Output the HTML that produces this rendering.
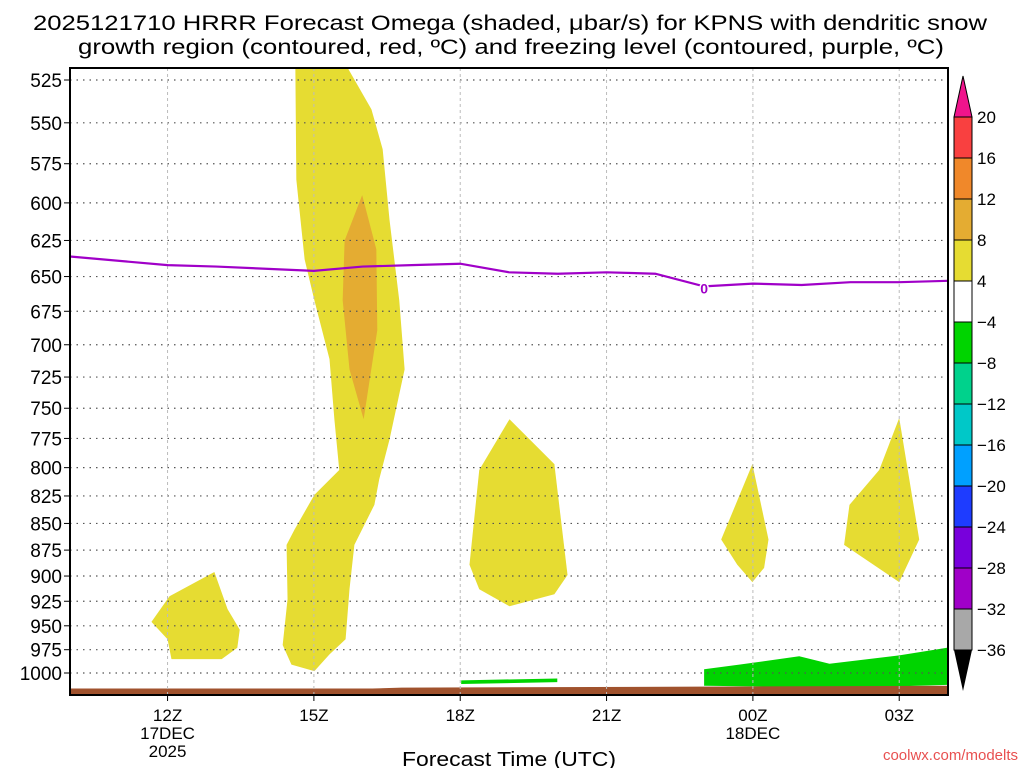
<!DOCTYPE html>
<html><head><meta charset="utf-8"><style>
body{margin:0;background:#fff;}
svg text{font-family:"Liberation Sans",sans-serif;}
</style></head><body>
<svg id="chart" width="1024" height="768" xmlns="http://www.w3.org/2000/svg">
<text x="33" y="30" font-size="21" textLength="954" lengthAdjust="spacingAndGlyphs">2025121710 HRRR Forecast Omega (shaded, μbar/s) for KPNS with dendritic snow</text>
<text x="78" y="54" font-size="21" textLength="866" lengthAdjust="spacingAndGlyphs">growth region (contoured, red, ºC) and freezing level (contoured, purple, ºC)</text>
<g id="shapes"></g><g id="grid"></g><g id="lines"></g><g id="axes"></g><g id="cbar"></g>
<text x="402" y="766" font-size="20" textLength="214" lengthAdjust="spacingAndGlyphs">Forecast Time (UTC)</text>
<text x="1018" y="760" font-size="15" fill="#e85050" text-anchor="end">coolwx.com/modelts</text>
</svg>
<script>
const NS="http://www.w3.org/2000/svg";
const pLevels=[525,550,575,600,625,650,675,700,725,750,775,800,825,850,875,900,925,950,975,1000];
const hourTicks=[12,15,18,21,24,27];
const hourLabels=["12Z","15Z","18Z","21Z","00Z","03Z"];
const freezeHours=[10,12,13,15,16,17,18,19,20,21,22,23,24,25,26,27,28];
const freezeP=[636,642,643,646,643,642,641,647,648,647,648,657,655,656,654,654,653];
const plume=[[14.62,518],[14.64,585],[14.81,638],[15.01,667],[15.32,711],[15.42,759],[15.52,802],[15.01,824],[14.6,856],[14.44,870],[14.46,923],[14.36,970],[14.54,991],[15.01,998],[15.32,980],[15.65,964],[15.73,913],[15.83,870],[16.24,833],[16.34,810],[16.55,776],[16.86,719],[16.75,667],[16.55,611],[16.41,566],[16.18,542],[15.69,518]];
const plumeCore=[[15.99,595],[15.63,625],[15.59,667],[15.73,719],[16.02,759],[16.3,689],[16.28,631]];
const blob12=[[11.67,946],[12.04,920],[12.96,896],[13.23,933],[13.48,954],[13.43,973],[13.11,985],[12.08,985],[12.0,964]];
const blob18=[[18.39,802],[19.01,759],[19.93,797],[20.2,899],[19.93,918],[19.01,930],[18.39,913],[18.19,889]];
const blob00=[[23.99,797],[24.32,865],[24.23,892],[23.99,906],[23.68,889],[23.35,865]];
const blob03=[[27.0,758],[27.41,865],[27.0,906],[25.87,870],[25.98,833],[26.59,802]];
const green1=[[23.0,996],[23.72,991],[24.95,982],[25.57,990],[27.0,981],[27.98,973],[27.98,1013],[26.18,1016],[23.0,1014]];
const green2=[[18.02,1008],[19.99,1006],[19.99,1010],[18.02,1012]];
const groundHours=[10,16.2,16.8,28];
const groundP=[1017,1017,1016,1014];
const cbLabels=["20","16","12","8","4","-4","-8","-12","-16","-20","-24","-28","-32","-36"];
const cbColors=["#f94040","#f0882a","#e4ac32","#e6dc32","#ffffff","#00d400","#00d28c","#00c8c8","#00a0ff","#1e3cff","#7800dc","#a000c8","#a8a8a8"];

const X0=70,X1=948,Y0=68,Y1=695,H0=10,H1=28,P0=525,YP0=80,YP1=673;
const x=h=>X0+(h-H0)/(H1-H0)*(X1-X0);
const y=p=>YP0+Math.log(p/P0)/Math.log(1000/P0)*(YP1-YP0);
function mk(tag,attrs,parent){const e=document.createElementNS(NS,tag);for(const k in attrs)e.setAttribute(k,attrs[k]);parent.appendChild(e);return e;}
const shapes=document.getElementById('shapes'),grid=document.getElementById('grid'),lines=document.getElementById('lines'),axes=document.getElementById('axes'),cbar=document.getElementById('cbar');
function poly(pts,fill,name){const e=mk('polygon',{points:pts.map(q=>x(q[0])+','+y(q[1])).join(' '),fill:fill},shapes);

}
const clip=mk('clipPath',{id:'pc'},shapes);mk('rect',{x:X0,y:Y0,width:X1-X0,height:Y1-Y0},clip);
shapes.setAttribute('clip-path','url(#pc)');
poly(plume,'#e6dc32','omega-plume-15z');
poly(plumeCore,'#e4ac32','omega-core-16z');
poly(blob12,'#e6dc32','omega-area-12z');
poly(blob18,'#e6dc32','omega-area-19z');
poly(blob00,'#e6dc32','omega-area-00z');
poly(blob03,'#e6dc32','omega-area-03z');
poly(green1,'#00d400','negative-omega-area-00z');
poly(green2,'#00d400','negative-omega-strip-18z');
let gp=[];for(let i=0;i<groundHours.length;i++){gp.push(x(groundHours[i])+','+y(groundP[i]));}
gp.push(X1+','+Y1);gp.push(X0+','+Y1);
const g=mk('polygon',{points:gp.join(' '),fill:'#a0522d'},shapes);


pLevels.forEach(p=>{const l=mk('line',{x1:X0,x2:X1,y1:y(p),y2:y(p),stroke:'#555','stroke-width':1.2,'stroke-dasharray':'1.5,5'},grid);


const t=mk('text',{x:X0-8,y:y(p)+7,'font-size':19,'text-anchor':'end'},axes);t.textContent=p;


mk('line',{x1:X0-6,x2:X0,y1:y(p),y2:y(p),stroke:'#000'},axes);});
hourTicks.forEach((h,i)=>{const l=mk('line',{x1:x(h),x2:x(h),y1:Y0,y2:Y1,stroke:'#bbb','stroke-dasharray':'3,3'},grid);


mk('line',{x1:x(h),x2:x(h),y1:Y1,y2:Y1+6,stroke:'#000'},axes);
const t=mk('text',{x:x(h),y:721,'font-size':17,'text-anchor':'middle'},axes);t.textContent=hourLabels[i];

});
[[12,"17DEC",739],[12,"2025",757],[24,"18DEC",739]].forEach(a=>{const t=mk('text',{x:x(a[0]),y:a[2],'font-size':17,'text-anchor':'middle'},axes);t.textContent=a[1];

});
const fl=mk('polyline',{points:freezeHours.map((h,i)=>x(h)+','+y(freezeP[i])).join(' '),fill:'none',stroke:'#a000c8','stroke-width':2.2},lines);


const fz=mk('text',{x:x(23),y:y(657)+7,'font-size':14,'font-weight':'bold',fill:'#a000c8','text-anchor':'middle',stroke:'#fff','stroke-width':3,'paint-order':'stroke'},lines);fz.textContent='0';


const fr=mk('rect',{x:X0,y:Y0,width:X1-X0,height:Y1-Y0,fill:'none',stroke:'#000','stroke-width':2},axes);


const CX=954,CW=18,CT=117,CS=41;
const tt=mk('polygon',{points:`${CX},${CT} ${CX+CW},${CT} ${CX+CW/2},76`,fill:'#f0148c',stroke:'#000'},cbar);


cbColors.forEach((c,i)=>{const r=mk('rect',{x:CX,y:CT+i*CS,width:CW,height:CS,fill:c,stroke:'#000'},cbar);

});
const bt=mk('polygon',{points:`${CX},${CT+13*CS} ${CX+CW},${CT+13*CS} ${CX+CW/2},691`,fill:'#000'},cbar);


cbLabels.forEach((s,i)=>{const t=mk('text',{x:CX+CW+5,y:CT+i*CS+6,'font-size':17},cbar);t.textContent=s.replace('-','−');

});
</script>
</body></html>
